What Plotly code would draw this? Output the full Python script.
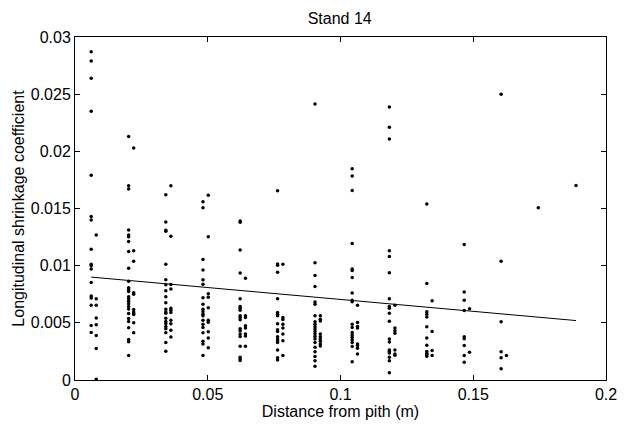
import plotly.graph_objects as go

# Column x positions (m) and shrinkage values
col_x = [0.0061, 0.0080, 0.0202, 0.0221, 0.0342, 0.0361, 0.0482, 0.0502,
         0.0622, 0.0642, 0.0763, 0.0783, 0.0904, 0.0924, 0.1044, 0.1064,
         0.1184, 0.1205, 0.1325, 0.1345, 0.1466, 0.1486, 0.1605, 0.1625,
         0.1745, 0.1887]

col_y = [
    [0.0287, 0.0279, 0.0264, 0.0235, 0.0179, 0.01431, 0.01399, 0.01144, 0.01012, 0.01000,
     0.00971, 0.00853, 0.00734, 0.00717, 0.00653, 0.00477, 0.00416],
    [0.01269, 0.00711, 0.00653, 0.00543, 0.00483, 0.00390, 0.00275, 0.00006],
    [0.0213, 0.0170, 0.0167, 0.01312, 0.01269, 0.01254, 0.01211, 0.01124, 0.00977, 0.00864,
     0.00806, 0.00792, 0.00775, 0.00728, 0.00711, 0.00688, 0.00668, 0.00642, 0.00621,
     0.00581, 0.00538, 0.00512, 0.00457, 0.00355, 0.00335, 0.00214],
    [0.0203, 0.01130, 0.01038, 0.00763, 0.00751, 0.00616, 0.00595, 0.00581, 0.00572,
     0.00500, 0.00413],
    [0.0162, 0.01381, 0.01309, 0.01301, 0.01012, 0.00876, 0.00832, 0.00780, 0.00728,
     0.00676, 0.00618, 0.00595, 0.00584, 0.00540, 0.00512, 0.00494, 0.00468, 0.00448,
     0.00413, 0.00327, 0.00251],
    [0.0170, 0.01257, 0.00835, 0.00795, 0.00627, 0.00610, 0.00590, 0.00523, 0.00491,
     0.00436, 0.00376],
    [0.01558, 0.01506, 0.01055, 0.00962, 0.00876, 0.00838, 0.00720, 0.00662, 0.00618,
     0.00598, 0.00575, 0.00561, 0.00523, 0.00488, 0.00460, 0.00413, 0.00338, 0.00315,
     0.00214],
    [0.01616, 0.01254, 0.00754, 0.00723, 0.00633, 0.00523, 0.00506, 0.00422, 0.00367,
     0.00283],
    [0.01390, 0.01379, 0.01136, 0.00936, 0.00711, 0.00642, 0.00627, 0.00610, 0.00561,
     0.00546, 0.00526, 0.00448, 0.00431, 0.00402, 0.00381, 0.00295, 0.00199, 0.00185,
     0.00171],
    [0.00890, 0.00561, 0.00546, 0.00474, 0.00454, 0.00402, 0.00384, 0.00295],
    [0.01655, 0.01014, 0.01003, 0.00942, 0.00711, 0.00590, 0.00575, 0.00561, 0.00491,
     0.00439, 0.00425, 0.00379, 0.00358, 0.00344, 0.00329, 0.00263, 0.00194, 0.00176],
    [0.01012, 0.00546, 0.00529, 0.00488, 0.00454, 0.00402, 0.00344, 0.00214],
    [0.02413, 0.01026, 0.00913, 0.00818, 0.00682, 0.00662, 0.00561, 0.00509, 0.00488,
     0.00465, 0.00445, 0.00425, 0.00402, 0.00381, 0.00358, 0.00329, 0.00286, 0.00246,
     0.00205, 0.00168, 0.00121],
    [0.00561, 0.00532, 0.00517, 0.00402, 0.00379, 0.00358, 0.00338, 0.00315, 0.00298],
    [0.01847, 0.01784, 0.01657, 0.01194, 0.00971, 0.00957, 0.00896, 0.00760, 0.00697,
     0.00685, 0.00488, 0.00460, 0.00416, 0.00393, 0.00373, 0.00353, 0.00329, 0.00292,
     0.00159],
    [0.00653, 0.00503, 0.00468, 0.00454, 0.00315, 0.00301, 0.00277, 0.00228],
    [0.02387, 0.02211, 0.02107, 0.01130, 0.01081, 0.00939, 0.00711, 0.00642, 0.00627,
     0.00584, 0.00514, 0.00358, 0.00332, 0.00263, 0.00249, 0.00237, 0.00199, 0.00168,
     0.00064],
    [0.00653, 0.00454, 0.00431, 0.00408, 0.00263, 0.00228, 0.00217],
    [0.01540, 0.00844, 0.00598, 0.00575, 0.00552, 0.00465, 0.00367, 0.00303, 0.00249,
     0.00234, 0.00223, 0.00208],
    [0.00694, 0.00425, 0.00257, 0.00214],
    [0.01185, 0.00769, 0.00697, 0.00607, 0.00379, 0.00361, 0.00301, 0.00214, 0.00156],
    [0.00624, 0.00243],
    [0.0250, 0.01038, 0.00509, 0.00246, 0.00194, 0.00098],
    [0.00214],
    [0.01506],
    [0.01702],
]

fit_x = [0.0061, 0.1887]
fit_y = [0.00900, 0.00520]

x_ticks = [0, 0.05, 0.1, 0.15, 0.2]
x_labels = ["0", "0.05", "0.1", "0.15", "0.2"]
y_ticks = [0, 0.005, 0.01, 0.015, 0.02, 0.025, 0.03]
y_labels = ["0", "0.005", "0.01", "0.015", "0.02", "0.025", "0.03"]

xs, ys = [], []
for cx, vals in zip(col_x, col_y):
    for v in vals:
        xs.append(cx)
        ys.append(v)

fig = go.Figure()
fig.add_trace(go.Scatter(x=xs, y=ys, mode="markers",
                         marker=dict(color="black", size=3.5, line=dict(width=0)),
                         showlegend=False))
fig.add_trace(go.Scatter(x=fit_x, y=fit_y, mode="lines",
                         line=dict(color="black", width=1), showlegend=False))

font = "Liberation Sans, Arial, sans-serif"
axis_common = dict(showgrid=False, zeroline=False, showline=True, linecolor="black",
                   linewidth=1, mirror="ticks", ticks="inside", ticklen=5,
                   tickcolor="black", tickfont=dict(family=font, size=16, color="black"))

fig.update_layout(
    width=629, height=427,
    margin=dict(l=75, r=23, t=37, b=44),
    paper_bgcolor="white", plot_bgcolor="white",
    title=dict(text="Stand 14", x=0.54, xanchor="center", y=0.958, yanchor="middle",
               font=dict(family=font, size=16, color="black")),
    xaxis=dict(range=[0, 0.2], tickvals=x_ticks, ticktext=x_labels,
               title=dict(text="Distance from pith (m)", standoff=1,
                          font=dict(family=font, size=16, color="black")),
               **axis_common),
    yaxis=dict(range=[0, 0.03], tickvals=y_ticks, ticktext=y_labels,
               title=dict(text="Longitudinal shrinkage coefficient", standoff=2,
                          font=dict(family=font, size=16, color="black")),
               **axis_common),
)

fig.write_html("out.html")
